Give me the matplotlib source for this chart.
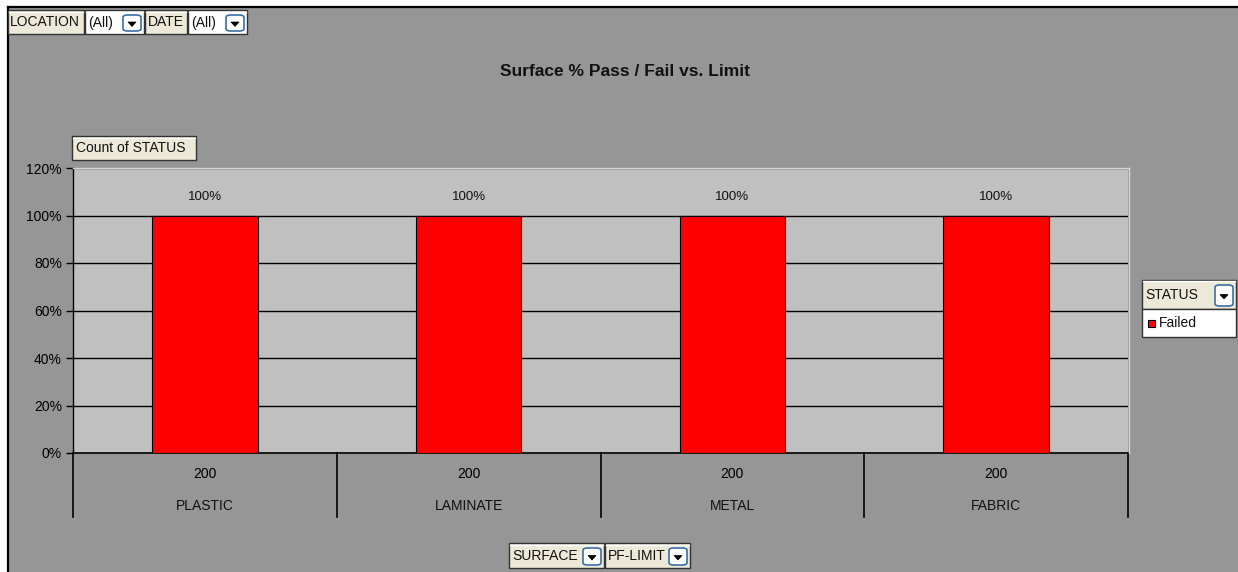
import matplotlib
matplotlib.use("Agg")
import matplotlib.pyplot as plt
from matplotlib.patches import Rectangle, FancyBboxPatch, Polygon
from matplotlib.lines import Line2D
import matplotlib.transforms as mtransforms

plt.rcParams['font.family'] = ['Liberation Sans', 'DejaVu Sans']

# ---- data ----
categories = ["PLASTIC", "LAMINATE", "METAL", "FABRIC"]
pf_limit = ["200", "200", "200", "200"]
failed_pct = [100, 100, 100, 100]
y_ticks = [0, 20, 40, 60, 80, 100, 120]
title = "Surface % Pass / Fail vs. Limit"

W, H = 1238, 572
FS = 10
fig = plt.figure(figsize=(W / 100, H / 100), dpi=100)
fig.patch.set_facecolor("#969696")

def fx(x):
    return x / W

def fy(y):
    return 1 - y / H

# white strip + black border
fig.add_artist(Rectangle((0, 0), fx(7), 1, transform=fig.transFigure, facecolor="white", edgecolor="none", zorder=0))
fig.add_artist(Rectangle((0, fy(6)), 1, 6 / H, transform=fig.transFigure, facecolor="white", edgecolor="none", zorder=0))
fig.add_artist(Line2D([fx(7.5), fx(7.5)], [0, fy(6.5)], transform=fig.transFigure, color="black", lw=1.6, zorder=1))
fig.add_artist(Line2D([fx(7.5), 1], [fy(6.5), fy(6.5)], transform=fig.transFigure, color="black", lw=1.6, zorder=1))

ax = fig.add_axes([fx(73), fy(453), fx(1128) - fx(73), (453 - 168) / H])
ax.set_facecolor("#C0C0C0")

x = list(range(len(categories)))
ax.bar(x, failed_pct, width=0.40, color="#FF0000", edgecolor="black", linewidth=0.8, zorder=3)
for xi, v in zip(x, failed_pct):
    ax.annotate(f"{v}%", (xi, v), xytext=(0, 13), textcoords="offset points",
                ha="center", va="center", fontsize=9.5, color="#111111")

ax.set_xlim(-0.5, len(categories) - 0.5)
ax.set_ylim(0, 120)
ax.set_yticks(y_ticks)
ax.set_yticklabels([f"{t}%" for t in y_ticks], fontsize=FS)
ax.tick_params(axis="y", length=5, width=1, color="black", pad=3)
for t in y_ticks[1:]:
    ax.axhline(t, color="black", lw=1, zorder=2)

ax.set_xticks(x)
ax.set_xticklabels(pf_limit, fontsize=FS)
ax.tick_params(axis="x", length=0, pad=10)

for side in ["top", "right"]:
    ax.spines[side].set_visible(False)
ax.spines["left"].set_color("black")
ax.spines["bottom"].set_color("black")
ax.spines["left"].set_linewidth(1)
ax.spines["bottom"].set_linewidth(1.2)

trans = mtransforms.blended_transform_factory(ax.transData, ax.transAxes)
ax_h_px = 453 - 168
for b in [i - 0.5 for i in range(len(categories) + 1)]:
    ax.add_artist(Line2D([b, b], [0, -64 / ax_h_px], transform=trans, color="black", lw=1.2, clip_on=False))
for xi, name in zip(x, categories):
    ax.text(xi, -53 / ax_h_px, name, transform=trans, ha="center", va="center", fontsize=FS, color="#111111")

# light edge at plot area top/right
fig.add_artist(Line2D([fx(73), fx(1129)], [fy(168), fy(168)], transform=fig.transFigure, color="#D8D8D8", lw=1))
fig.add_artist(Line2D([fx(1129), fx(1129)], [fy(168), fy(453)], transform=fig.transFigure, color="#D8D8D8", lw=1))

fig.text(fx(625), fy(72), title, ha="center", va="center", fontsize=12.5, fontweight="bold", color="#111111")

BEIGE = "#ECE9D8"

def box(x0, y0, x1, y1, text, color=BEIGE, dropdown=False, fontsize=FS, text_x=None):
    fig.add_artist(Rectangle((fx(x0), fy(y1)), fx(x1 - x0), (y1 - y0) / H, transform=fig.transFigure,
                             facecolor=color, edgecolor="#333333", lw=1, zorder=5))
    fig.add_artist(Line2D([fx(x0 + 1), fx(x1 - 1)], [fy(y0 + 1.5), fy(y0 + 1.5)], transform=fig.transFigure,
                          color="white", lw=1, zorder=6))
    tx = x0 + 3 if text_x is None else text_x
    fig.text(fx(tx), fy((y0 + y1) / 2 + 0.5), text, ha="left", va="center", fontsize=fontsize, color="#111111", zorder=7)
    if dropdown:
        dx0, dx1 = x1 - 21, x1 - 3
        dy0, dy1 = y0 + 5, y1 - 3
        fig.add_artist(FancyBboxPatch((fx(dx0), fy(dy1)), fx(dx1 - dx0), (dy1 - dy0) / H,
                                      boxstyle="round,pad=0,rounding_size=0.004", transform=fig.transFigure,
                                      facecolor="white", edgecolor="#3C6EA5", lw=1.2, zorder=6))
        cx, cy = (dx0 + dx1) / 2, (dy0 + dy1) / 2 + 1
        fig.add_artist(Polygon([(fx(cx - 4), fy(cy - 2)), (fx(cx + 4), fy(cy - 2)), (fx(cx), fy(cy + 2.5))],
                               closed=True, transform=fig.transFigure, facecolor="black", edgecolor="black",
                               lw=0.5, zorder=7))

# page fields
box(8, 10, 84, 34, "LOCATION", text_x=10)
box(85, 10, 144, 34, "(All)", color="white", dropdown=True)
box(145, 10, 187, 34, "DATE")
box(188, 10, 247, 34, "(All)", color="white", dropdown=True)

# data field
box(72, 136, 196, 160, "Count of STATUS", text_x=76)

# series field + legend
box(1142, 280, 1236, 309, "STATUS", dropdown=True)
fig.add_artist(Rectangle((fx(1142), fy(337)), fx(94), 28 / H, transform=fig.transFigure,
                         facecolor="white", edgecolor="#333333", lw=1, zorder=5))
fig.add_artist(Rectangle((fx(1148), fy(327)), fx(7), 7 / H, transform=fig.transFigure,
                         facecolor="#FF0000", edgecolor="black", lw=0.8, zorder=6))
fig.text(fx(1159), fy(323), "Failed", ha="left", va="center", fontsize=FS, color="#111111", zorder=7)

# category fields
box(509, 543, 604, 568, "SURFACE", dropdown=True)
box(605, 543, 690, 568, "PF-LIMIT", dropdown=True)

fig.savefig("out.png", dpi=100, facecolor=fig.get_facecolor())
